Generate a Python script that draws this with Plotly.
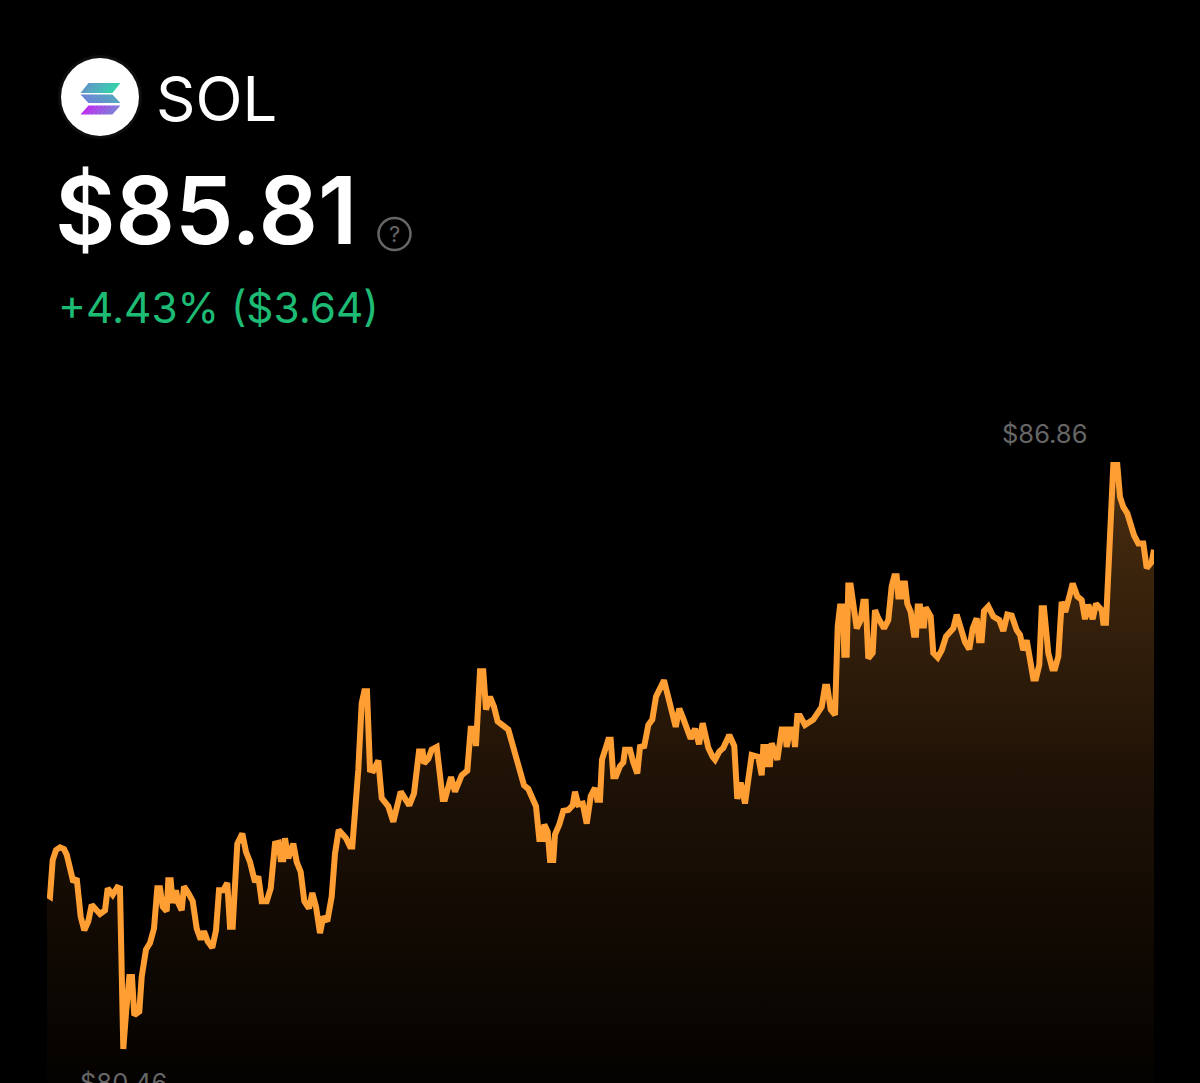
import plotly.graph_objects as go

# Elapsed time units (full span 0..1107) and SOL price in USD
elapsed = [0,3,5.7,9,13,17,19.7,23,26.3,29.7,33.7,37.3,41.3,44.7,49.7,53,58,60.7,65.7,70.3,73,76.3,79,82.3,85,87.3,92.3,94.7,99,103,107,110.3,113,115.7,119.7,121.3,123.7,125.7,129,131.3,134.7,137,141.3,145.7,149.7,153.7,157,160.7,165.3,169,172,176.3,180.3,183,185.7,190.3,195.3,199,203,208,211.3,214.7,219.7,223.7,228,231.7,233.7,236.3,238,241.3,246.3,249.7,253.7,257.3,262,265.3,269,273,276.3,280.3,284.7,288,291.7,299,303,305.3,311.3,314.7,317.3,320,323,326.3,331.3,334.7,341.3,346.3,353.7,362.3,367,
 372,375.7,377,381.3,384.7,389.7,395.7,398,404,408,414.7,420.3,423.7,427,429,433,436.3,439,443,447,450.7,461.3,466.3,470.3,477,481.3,489,492.3,495.7,497.3,500.7,503,506.3,508,512.3,516.3,521.3,525.7,528,531.3,535.7,539.7,543.7,548,550.3,553,555,561.3,563.7,566.3,569,573,576.3,578,583,586.3,590.3,593,597.3,601.3,605.3,609,613,617,628.7,632.3,636.3,643.7,648,652,655.7,661.3,665.7,668,672.3,676.3,682.3,687.3,690.3,693.7,698,704.7,711.3,714.7,716.3,719,720.7,723,724.7,730.3,734.7,738,739.7,743,746.3,748,750.3,753,
 758,766.3,774.7,778,780.3,783.7,788,790.7,793,795.7,797.3,799.7,801.3,803.7,809.7,813.7,816.3,818.7,821.3,825.7,828,831.3,837,841.3,844.7,847.3,849.7,851.3,854,855.7,858,860.3,863.7,867,869,870.7,873,874.7,877,878.7,883.7,886.3,890.7,894.7,899,906.3,909.7,914,918,922.3,925.7,929.7,932,934.7,937,941.3,946.3,952.3,956.3,960.3,964.7,969.7,973,976.3,979.7,986.3,989,992.3,994.7,997,1001.3,1005.3,1008,1011.3,1014.7,1018.3,1025.7,1030.3,1034.7,1038,1041.3,1045.7,1049,1054.7,1056.3,1059,1066.3,1070.3,1073,1076.3,1080.3,1087,1091.3,1096.3,1099.7,1104.7,1107]

price = [82.15,82.13,82.53,82.64,82.67,82.65,82.59,82.42,82.29,82.33,81.91,81.76,81.86,82.04,81.98,81.94,81.98,82.22,82.15,82.23,82.22,80.46,80.85,81.25,81.25,80.83,80.87,81.25,81.55,81.62,81.78,82.22,82.22,82.02,81.97,82.31,82.31,82.06,82.20,82.06,81.98,82.24,82.17,82.08,81.78,81.66,81.75,81.64,81.57,81.76,82.20,82.20,82.28,81.80,81.80,82.71,82.82,82.62,82.51,82.29,82.35,82.08,82.08,82.22,82.71,82.72,82.54,82.54,82.77,82.55,82.71,82.51,82.40,82.08,82.00,82.17,82.02,81.73,81.91,81.86,82.13,82.60,82.86,82.77,82.68,82.68,83.52,84.25,84.38,84.38,83.52,83.51,83.62,83.21,83.12,82.95,83.28,83.13,83.26,
 83.72,83.72,83.59,83.64,83.74,83.77,83.20,83.20,83.44,83.28,83.46,83.51,83.97,83.97,83.78,84.60,84.60,84.18,84.32,84.21,84.05,83.96,83.77,83.66,83.35,83.31,83.12,82.76,82.76,82.92,82.84,82.53,82.53,82.81,82.92,83.07,83.08,83.13,83.28,83.14,83.15,82.93,83.23,83.32,83.19,83.19,83.63,83.85,83.85,83.45,83.45,83.56,83.60,83.74,83.74,83.60,83.48,83.77,83.78,84.01,84.07,84.32,84.41,84.50,83.99,84.19,84.08,83.86,83.97,83.80,84.03,83.76,83.66,83.63,83.72,83.76,83.90,83.78,83.20,83.38,83.15,83.68,83.66,83.46,83.77,83.77,83.58,83.58,83.81,83.63,83.96,83.96,83.77,83.96,83.96,83.77,84.11,84.11,
 84.01,84.07,84.21,84.43,84.43,84.18,84.12,85.09,85.31,85.31,84.78,84.78,85.54,85.54,85.07,85.16,85.36,85.36,84.74,84.80,85.27,85.18,85.07,85.16,85.53,85.64,85.64,85.42,85.42,85.56,85.56,85.34,85.25,85.00,85.00,85.31,85.31,85.10,85.10,85.30,85.20,84.80,84.75,84.83,84.98,85.07,85.22,85.07,84.92,84.84,85.07,85.18,84.94,84.94,85.26,85.31,85.20,85.16,85.04,85.22,85.21,85.05,85.00,84.83,84.94,84.52,84.52,84.67,85.29,85.29,84.80,84.63,84.63,84.76,85.36,85.25,85.56,85.42,85.38,85.17,85.33,85.17,85.34,85.27,85.13,85.13,86.86,86.86,86.51,86.40,86.33,86.09,86.00,86.00,85.73,85.80,85.93]

ticker = "SOL"
headline_price = "$85.81"
change_text = "+4.43% ($3.64)"
high_label = "$86.86"
low_label = "$80.46"

W, H = 1200, 1083
def fx(x): return x / W
def fy(y): return 1 - y / H

fig = go.Figure()
fig.add_trace(go.Scatter(
    x=elapsed, y=price, mode="lines",
    line=dict(color="#FF9E33", width=6),
    fill="tozeroy",
    fillgradient=dict(type="vertical", start=80.087, stop=86.86,
                      colorscale=[[0, "#040200"], [0.5, "#1f1206"], [1, "#4a2e10"]]),
    hoverinfo="skip", showlegend=False,
))

def path(points):
    return "M " + " L ".join(f"{fx(a):.5f},{fy(b):.5f}" for a, b in points) + " Z"

shapes = [
    dict(type="circle", xref="paper", yref="paper", x0=fx(58), x1=fx(142), y0=fy(55), y1=fy(139),
         fillcolor="#0e0e0e", line_width=0, layer="above"),
    dict(type="circle", xref="paper", yref="paper", x0=fx(61), x1=fx(139), y0=fy(58), y1=fy(136),
         fillcolor="#ffffff", line_width=0, layer="above"),
    dict(type="circle", xref="paper", yref="paper", x0=fx(378.5), x1=fx(410.5), y0=fy(218), y1=fy(250),
         fillcolor="rgba(0,0,0,0)", line=dict(color="#666666", width=2.5), layer="above"),
]

def band(x_left, x_right, y_top, y_bot, skew_right, c_left, c_right, n=8):
    for i in range(n):
        t0, t1 = i / n, (i + 1) / n
        a = x_left + (x_right - x_left) * t0
        b = x_left + (x_right - x_left) * t1 + 0.4
        col = "rgb(" + ",".join(str(round(c_left[k] + (c_right[k] - c_left[k]) * (t0 + t1) / 2)) for k in range(3)) + ")"
        if skew_right:   # slants like /
            pts = [(a + 8, y_top), (b + 8, y_top), (b, y_bot), (a, y_bot)]
        else:            # slants like \
            pts = [(a, y_top), (b, y_top), (b + 8, y_bot), (a + 8, y_bot)]
        shapes.append(dict(type="path", xref="paper", yref="paper", path=path(pts),
                           fillcolor=col, line_width=0, layer="above"))

band(80.5, 112, 83, 93, True, (95, 150, 200), (50, 210, 170))
band(80.5, 112, 94.5, 103, False, (105, 130, 215), (85, 165, 190))
band(80.5, 112, 105.5, 114.5, True, (190, 45, 240), (125, 125, 215))

def label(text, x, y, size, color, weight=400, anchor="left", family="Inter"):
    return dict(text=text, xref="paper", yref="paper", x=fx(x), y=fy(y), xanchor=anchor, yanchor="middle",
                showarrow=False, borderpad=0, align="left",
                font=dict(family=family, size=size, color=color, weight=weight))

annotations = [
    label(ticker, 155, 98, 61.5, "#ffffff"),
    label(headline_price, 54, 210, 93, "#ffffff", 600),
    label(change_text, 57, 308, 42.3, "#1DBB74"),
    label("?", 394.5, 234, 22, "#666666", anchor="center"),
    dict(text=high_label, x=1044.5 - 47, y=86.86, xref="x", yref="y", showarrow=False, yshift=31,
         font=dict(family="Inter", size=25.5, color="#666666")),
    dict(text=low_label, x=123.5 - 47, y=80.46, xref="x", yref="y", showarrow=False, yshift=-34,
         font=dict(family="Inter", size=25.5, color="#666666")),
]

fig.update_layout(
    width=W, height=H, margin=dict(l=0, r=0, t=0, b=0),
    paper_bgcolor="#000000", plot_bgcolor="rgba(0,0,0,0)",
    xaxis=dict(domain=[47 / W, 1154 / W], range=[0, 1107], visible=False, fixedrange=True),
    yaxis=dict(domain=[0, 1], range=[80.087, 91.956], visible=False, fixedrange=True),
    shapes=shapes, annotations=annotations,
)
fig.write_html("out.html", config={"displayModeBar": False},
               post_script="document.body.style.margin='0';document.body.style.background='#000';document.documentElement.style.overflow='hidden';")
